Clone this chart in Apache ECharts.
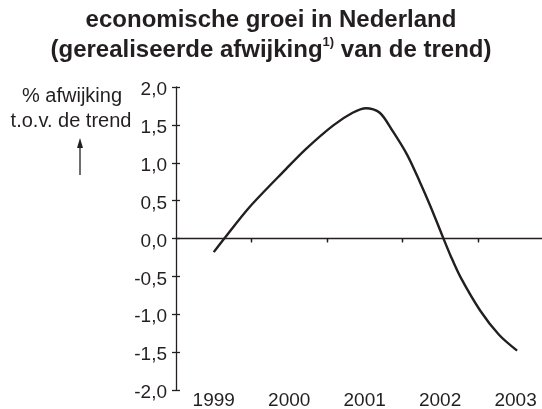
<!DOCTYPE html>
<html>
<head>
<meta charset="utf-8">
<script src="https://cdn.jsdelivr.net/npm/echarts@6/dist/echarts.min.js"></script>
<style>
  html, body { margin: 0; padding: 0; background: #fff; }
  #chart { width: 542px; height: 409px; }
</style>
</head>
<body>
<div id="chart"></div>
<script>
const years = [1999.00, 1999.14, 1999.47, 1999.96, 2000.22, 2000.58, 2000.84, 2001.02,
  2001.20, 2001.37, 2001.56, 2001.73, 2001.87, 2002.02, 2002.14, 2002.27, 2002.53, 2002.78, 2003.02];
const afwijking = [-0.18, 0.00, 0.41, 0.92, 1.18, 1.49, 1.66, 1.72,
  1.66, 1.42, 1.11, 0.75, 0.43, 0.06, -0.23, -0.51, -0.95, -1.27, -1.48];
const xTickLabels = [1999, 2000, 2001, 2002, 2003];
const xTickMarks = [1999.5, 2000.5, 2001.5, 2002.5];
const yTicks = [-2, -1.5, -1, -0.5, 0, 0.5, 1, 1.5, 2];

const font = 'Liberation Sans, Arial, Helvetica, sans-serif';
const ink = '#231f20';

let myChart = echarts.init(document.getElementById('chart'));

const option = {
  animation: false,
  title: {
    left: 'center',
    top: 5,
    padding: 0,
    text: '{a|economische groei in Nederland}\n{a|(gerealiseerde afwijking}{s|1)}{a| van de trend)}',
    textStyle: {
      rich: {
        a: { fontFamily: font, fontWeight: 'bold', fontSize: 24, color: ink, lineHeight: 30 },
        s: { fontFamily: font, fontWeight: 'bold', fontSize: 13, color: ink, padding: [0, 0, 15, 0] }
      }
    }
  },
  grid: {
    left: 176,
    right: 0,
    top: 87,
    bottom: 19,
    outerBoundsMode: 'none'
  },
  xAxis: [
    {
      // nullijn met streepjes naar beneden
      type: 'value', min: 1998.5, max: 2003.35,
      axisLine: { show: true, onZero: true, lineStyle: { color: ink, width: 1.3 } },
      axisTick: { show: true, inside: false, length: 3, customValues: xTickMarks, lineStyle: { color: ink, width: 1.3 } },
      axisLabel: { show: false },
      splitLine: { show: false }
    },
    {
      // streepjes naar boven
      type: 'value', min: 1998.5, max: 2003.35,
      axisLine: { show: false, onZero: true, onZeroAxisIndex: 1 },
      axisTick: { show: true, inside: true, length: 4, customValues: xTickMarks, lineStyle: { color: ink, width: 1.3 } },
      axisLabel: { show: false },
      splitLine: { show: false }
    },
    {
      // jaartallen onderaan
      type: 'value', min: 1998.5, max: 2003.35, position: 'bottom',
      axisLine: { show: false, onZero: false },
      axisTick: { show: false },
      axisLabel: {
        show: true, customValues: xTickLabels, margin: 1,
        fontFamily: font, fontSize: 19, color: ink,
        formatter: v => String(v)
      },
      splitLine: { show: false }
    }
  ],
  yAxis: [
    {
      type: 'value', min: -2, max: 2, interval: 0.5, position: 'left',
      axisLine: { show: true, onZero: false, lineStyle: { color: ink, width: 1.3 } },
      axisTick: { show: true, inside: false, length: 4, customValues: yTicks, lineStyle: { color: ink, width: 1.3 } },
      axisLabel: {
        show: true, customValues: yTicks, margin: 9,
        formatter: v => '{v|' + v.toFixed(1).replace('.', ',') + '}',
        rich: {
          v: { fontFamily: font, fontSize: 19, color: ink, padding: [6, 0, 0, 0] }
        }
      },
      splitLine: { show: false }
    },
    {
      type: 'value', min: -2, max: 2, interval: 0.5, position: 'left',
      axisLine: { show: false, onZero: false },
      axisTick: { show: true, inside: true, length: 4, customValues: yTicks, lineStyle: { color: ink, width: 1.3 } },
      axisLabel: { show: false },
      splitLine: { show: false }
    }
  ],
  graphic: [
    {
      type: 'text', x: 72, y: 96,
      style: { text: '% afwijking', font: '20px ' + font, fill: ink, align: 'center', verticalAlign: 'middle' }
    },
    {
      type: 'text', x: 71, y: 121,
      style: { text: 't.o.v. de trend', font: '20px ' + font, fill: ink, align: 'center', verticalAlign: 'middle' }
    },
    {
      type: 'line', shape: { x1: 80, y1: 144, x2: 80, y2: 175 },
      style: { stroke: ink, lineWidth: 1.3 }
    },
    {
      type: 'polygon', shape: { points: [[80, 138], [77, 148], [83, 148]] },
      style: { fill: ink }
    }
  ],
  series: [
    {
      type: 'line',
      xAxisIndex: 0,
      yAxisIndex: 0,
      data: years.map((y, i) => [y, afwijking[i]]),
      smooth: 0.3,
      showSymbol: false,
      lineStyle: { color: ink, width: 2.4 }
    }
  ]
};

myChart.setOption(option);
</script>
</body>
</html>
